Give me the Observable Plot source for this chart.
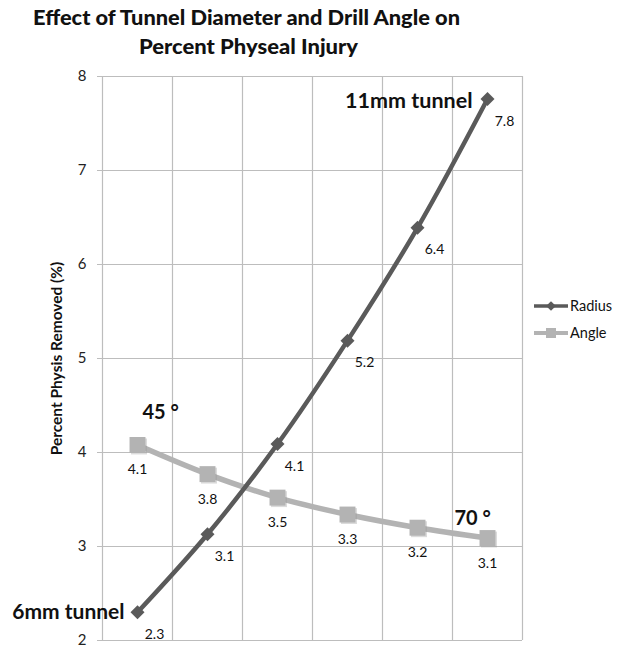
<!DOCTYPE html>
<html><head><meta charset="utf-8">
<script src="https://cdn.jsdelivr.net/npm/d3@7"></script>
<script src="https://cdn.jsdelivr.net/npm/@observablehq/plot@0.6"></script>
<style>
body{margin:0;background:#fff;font-family:Lato,"Open Sans",sans-serif;}
#wrap{position:relative;width:624px;height:653px;}
#title{position:relative;height:66px;}
.tl{position:absolute;font-weight:900;font-size:21px;color:#111;white-space:nowrap;transform-origin:0 0;line-height:1;}
</style></head>
<body><div id="wrap"><div id="title"></div><div id="chart"></div></div>
<script>
const titleLines = ["Effect of Tunnel Diameter and Drill Angle on", "Percent Physeal Injury"];
const categories = [1, 2, 3, 4, 5, 6];
const radius = [2.30, 3.13, 4.09, 5.19, 6.39, 7.76];
const angle = [4.08, 3.77, 3.52, 3.34, 3.20, 3.09];
const yTicks = [2, 3, 4, 5, 6, 7, 8];
const seriesNames = ["Radius", "Angle"];
const yLabel = "Percent Physis Removed (%)";
const annotations = [
  {series: "Radius", i: 0, text: "6mm tunnel"},
  {series: "Radius", i: 5, text: "11mm tunnel"},
  {series: "Angle", i: 0, text: "45 °"},
  {series: "Angle", i: 5, text: "70 °"}
];

const rows = [];
categories.forEach((c, i) => {
  rows.push({cat: c, value: radius[i], series: "Radius", i});
  rows.push({cat: c, value: angle[i], series: "Angle", i});
});
const R = rows.filter(d => d.series === "Radius");
const A = rows.filter(d => d.series === "Angle");
const ann = annotations.map(a => ({...a, cat: categories[a.i], value: (a.series === "Radius" ? radius : angle)[a.i]}));

// Title
const tdiv = document.getElementById("title");
const titlePos = [{x: 33, y: 6, w: 427}, {x: 139, y: 35, w: 219}];
titleLines.forEach((t, k) => {
  const s = document.createElement("div");
  s.className = "tl"; s.textContent = t;
  tdiv.appendChild(s);
  const w = s.getBoundingClientRect().width;
  s.style.left = titlePos[k].x + "px"; s.style.top = titlePos[k].y + "px";
  s.style.transform = `scaleX(${titlePos[k].w / w})`;
});

const dark = "#5a5a5a", light = "#b3b3b3", grid = "#bdbdbd";
const bounds = d3.range(categories.length + 1).map(k => categories[0] - 0.5 + k);

const chart = Plot.plot({
  width: 624, height: 587,
  marginTop: 10, marginBottom: 13, marginLeft: 102, marginRight: 102,
  style: {fontFamily: "Lato, 'Open Sans', sans-serif", background: "#fff"},
  x: {type: "linear", domain: [bounds[0], bounds[bounds.length - 1]], axis: null},
  y: {domain: [2, 8], ticks: yTicks},
  marks: [
    Plot.gridY(yTicks, {stroke: grid, strokeOpacity: 1, strokeWidth: 1.2}),
    Plot.ruleX(bounds, {stroke: grid, strokeWidth: 1.2}),
    Plot.axisY(yTicks, {tickSize: 5, tickPadding: 11, fontSize: 15, stroke: grid, fill: "#222", label: null, tickFormat: d3.format("d")}),
    Plot.text([yLabel], {frameAnchor: "left", textAnchor: "middle", rotate: -90, dx: -45, fontWeight: "bold", fontSize: 15.5, fill: "#111"}),
    Plot.line(A, {x: "cat", y: "value", stroke: light, strokeWidth: 5.5, curve: "catmull-rom"}),
    Plot.dot(A, {x: "cat", y: "value", symbol: "square", r: 9, fill: "#999", fillOpacity: 0.35, dx: 1.5, dy: 1.5}),
    Plot.dot(A, {x: "cat", y: "value", symbol: "square", r: 9, fill: light}),
    Plot.line(R, {x: "cat", y: "value", stroke: dark, strokeWidth: 4.5, curve: "catmull-rom"}),
    Plot.dot(R, {x: "cat", y: "value", symbol: "diamond2", r: 6.3, fill: dark}),
    Plot.text(R, {x: "cat", y: "value", text: d => d3.format(".1f")(d.value), dx: 17, dy: 22, fontSize: 14, fill: "#111"}),
    Plot.text(A, {x: "cat", y: "value", text: d => d3.format(".1f")(d.value), dy: 25, fontSize: 14, fill: "#111"}),
    Plot.text(ann.filter(a => a.series === "Radius" && a.i === 0), {x: "cat", y: "value", text: "text", textAnchor: "end", dx: -13, dy: 0, fontSize: 21, fontWeight: "bold", fill: "#111"}),
    Plot.text(ann.filter(a => a.series === "Radius" && a.i === 5), {x: "cat", y: "value", text: "text", textAnchor: "end", dx: -15, dy: 2, fontSize: 21.5, fontWeight: "bold", fill: "#111"}),
    Plot.text(ann.filter(a => a.series === "Angle" && a.i === 0), {x: "cat", y: "value", text: "text", textAnchor: "start", dx: 5, dy: -32, fontSize: 20, fontWeight: "bold", fill: "#111"}),
    Plot.text(ann.filter(a => a.series === "Angle" && a.i === 5), {x: "cat", y: "value", text: "text", textAnchor: "start", dx: -33, dy: -19, fontSize: 20, fontWeight: "bold", fill: "#111"})
  ]
});
document.getElementById("chart").appendChild(chart);

// Legend (in SVG coordinates; SVG starts at page y=66)
const svg = d3.select(chart);
const lg = svg.append("g").attr("transform", "translate(0,-66)").attr("text-anchor", "start");
const legendItems = [{name: seriesNames[0], color: dark, y: 306, sym: "diamond"}, {name: seriesNames[1], color: light, y: 333, sym: "square"}];
legendItems.forEach(it => {
  lg.append("line").attr("x1", 534).attr("x2", 568).attr("y1", it.y).attr("y2", it.y).attr("stroke", it.color).attr("stroke-width", it.sym === "square" ? 4 : 3.5);
  if (it.sym === "diamond") {
    lg.append("path").attr("d", d3.symbol(d3.symbolDiamond2, 60)()).attr("transform", `translate(551,${it.y})`).attr("fill", it.color);
  } else {
    lg.append("rect").attr("x", 546).attr("y", it.y - 5).attr("width", 10).attr("height", 10).attr("fill", it.color);
  }
  lg.append("text").attr("x", 570).attr("y", it.y).attr("dy", "0.35em").attr("font-size", 14.5).attr("fill", "#111").text(it.name);
});
</script></body></html>
